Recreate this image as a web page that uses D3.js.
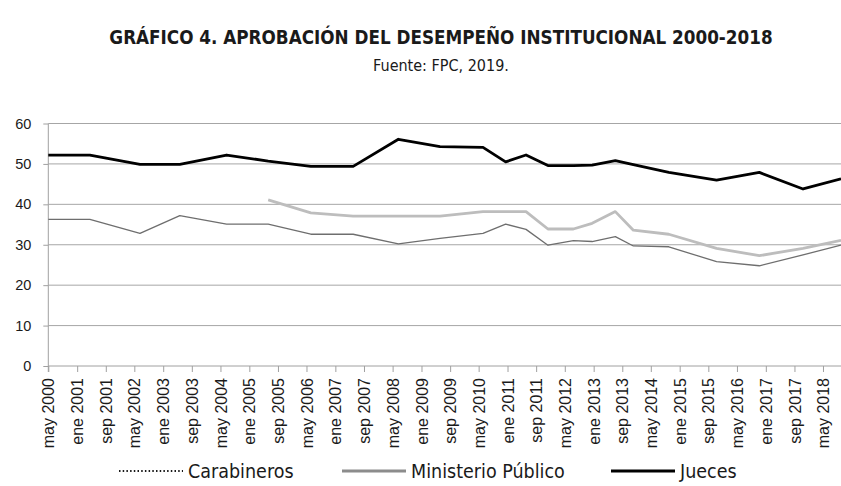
<!DOCTYPE html>
<html>
<head>
<meta charset="utf-8">
<script src="https://cdn.jsdelivr.net/npm/d3@7"></script>
<style>
  body { margin: 0; background: #fff; }
  svg { display: block; font-family: "DejaVu Sans Condensed", "DejaVu Sans", sans-serif; }
</style>
</head>
<body>
<div id="chart"></div>
<script>
// fechas de cada encuesta (aprox.)
const surveyDates = [
  "2000-05-01", "2001-04-19", "2002-06-18", "2003-05-22", "2004-06-22",
  "2005-06-10", "2006-06-07", "2007-06-01", "2008-06-19", "2009-06-07",
  "2010-06-07", "2010-12-16", "2011-06-07", "2011-12-10", "2012-07-13",
  "2012-12-19", "2013-07-04", "2013-12-04", "2014-10-01", "2015-11-10",
  "2016-11-07", "2017-11-13", "2018-10-01"
];
const carabineros = [36.3, 36.3, 32.8, 37.2, 35.1, 35.1, 32.6, 32.6, 30.2, 31.6,
  32.8, 35.1, 33.8, 29.9, 31.0, 30.8, 32.0, 29.7, 29.5, 25.8, 24.8, 27.5, 29.9];
const ministerio = [null, null, null, null, null, 41.1, 37.9, 37.1, 37.1, 37.1,
  38.2, 38.2, 38.2, 33.9, 33.9, 35.3, 38.2, 33.6, 32.6, 29.1, 27.3, 29.1, 31.1];
const jueces = [52.2, 52.2, 49.9, 49.9, 52.2, 50.7, 49.4, 49.4, 56.1, 54.3,
  54.1, 50.5, 52.2, 49.6, 49.6, 49.7, 50.8, 49.8, 47.9, 46.0, 47.9, 43.8, 46.3];

const tickLabels = ["may 2000", "ene 2001", "sep 2001", "may 2002", "ene 2003", "sep 2003",
  "may 2004", "ene 2005", "sep 2005", "may 2006", "ene 2007", "sep 2007", "may 2008",
  "ene 2009", "sep 2009", "may 2010", "ene 2011", "sep 2011", "may 2012", "ene 2013",
  "sep 2013", "may 2014", "ene 2015", "sep 2015", "may 2016", "ene 2017", "sep 2017", "may 2018"];
const yTicks = [0, 10, 20, 30, 40, 50, 60];

const titulo = "GRÁFICO 4. APROBACIÓN DEL DESEMPEÑO INSTITUCIONAL 2000-2018";
const fuente = "Fuente: FPC, 2019.";

const svgWidth = 841, svgHeight = 486;
const margin = { left: 48.3, right: 841, top: 123.5, bottom: 366 };

const meses = { ene: 0, may: 4, sep: 8 };
const parse = d3.timeParse("%Y-%m-%d");
const tickDates = tickLabels.map(t => {
  const p = t.split(" ");
  return new Date(+p[1], meses[p[0]], 1);
});

const svg = d3.select("#chart").append("svg")
  .attr("width", svgWidth)
  .attr("height", svgHeight);

const x = d3.scaleTime()
  .domain([new Date(2000, 4, 1), new Date(2018, 9, 1)])
  .range([margin.left, margin.right]);
const y = d3.scaleLinear()
  .domain([0, 60])
  .range([margin.bottom, margin.top]);

// titulo
svg.append("text")
  .attr("x", 441).attr("y", 44)
  .attr("text-anchor", "middle")
  .style("font-weight", "bold")
  .style("font-size", "18.7px")
  .style("fill", "#1a1a1a")
  .text(titulo);
svg.append("text")
  .attr("x", 441).attr("y", 71)
  .attr("text-anchor", "middle")
  .style("font-size", "16px")
  .style("fill", "#1a1a1a")
  .text(fuente);

// grilla + eje Y
const yAxis = svg.append("g")
  .attr("transform", "translate(" + margin.left + ",0)")
  .call(d3.axisLeft(y).tickValues(yTicks).tickSize(5).tickPadding(12));
yAxis.select(".domain").attr("d", "M0," + margin.top + "V" + (margin.bottom + 6)).attr("stroke", "#a0a0a0");
yAxis.selectAll(".tick line").attr("stroke", "#a0a0a0");
yAxis.selectAll(".tick text").style("font-size", "14.5px").style("fill", "#1a1a1a");

svg.append("g").selectAll("line")
  .data(yTicks.filter(d => d > 0))
  .enter().append("line")
  .attr("x1", margin.left).attr("x2", margin.right)
  .attr("y1", d => y(d)).attr("y2", d => y(d))
  .attr("stroke", "#a6a6a6")
  .attr("stroke-width", 1);

// eje X
const xAxis = svg.append("g")
  .attr("transform", "translate(0," + margin.bottom + ")")
  .call(d3.axisBottom(x).tickValues(tickDates).tickSize(6)
    .tickFormat((d, i) => tickLabels[i]));
xAxis.select(".domain").attr("d", "M" + margin.left + ",0H" + margin.right).attr("stroke", "#a0a0a0");
xAxis.selectAll(".tick line").attr("stroke", "#a0a0a0");
xAxis.selectAll(".tick text")
  .style("font-size", "16px")
  .style("fill", "#1a1a1a")
  .attr("text-anchor", "end")
  .attr("transform", "rotate(-90)")
  .attr("x", -12).attr("y", 0).attr("dy", "0.35em");

// lineas
const fechas = surveyDates.map(parse);
const line = d3.line()
  .defined(d => d[1] != null)
  .x(d => x(d[0]))
  .y(d => y(d[1]));

const series = [
  { values: carabineros, color: "#6e6e6e", width: 1.3 },
  { values: ministerio, color: "#bdbdbd", width: 2.8 },
  { values: jueces, color: "#000000", width: 2.8 }
];
series.forEach(s => {
  svg.append("path")
    .datum(fechas.map((f, i) => [f, s.values[i]]))
    .attr("fill", "none")
    .attr("stroke", s.color)
    .attr("stroke-width", s.width)
    .attr("stroke-linejoin", "round")
    .attr("d", line);
});

// leyenda
const legend = [
  { name: "Carabineros", x: 119, color: "#1a1a1a", width: 2, dash: "1.5,2.2" },
  { name: "Ministerio Público", x: 342, color: "#8c8c8c", width: 3, dash: null },
  { name: "Jueces", x: 611, color: "#000000", width: 3, dash: null }
];
const lg = svg.append("g");
legend.forEach(l => {
  lg.append("line")
    .attr("x1", l.x).attr("x2", l.x + 64)
    .attr("y1", 471).attr("y2", 471)
    .attr("stroke", l.color)
    .attr("stroke-width", l.width)
    .attr("stroke-dasharray", l.dash);
  lg.append("text")
    .attr("x", l.x + 69).attr("y", 478)
    .style("font-size", "19.5px")
    .style("fill", "#1a1a1a")
    .text(l.name);
});
</script>
</body>
</html>
